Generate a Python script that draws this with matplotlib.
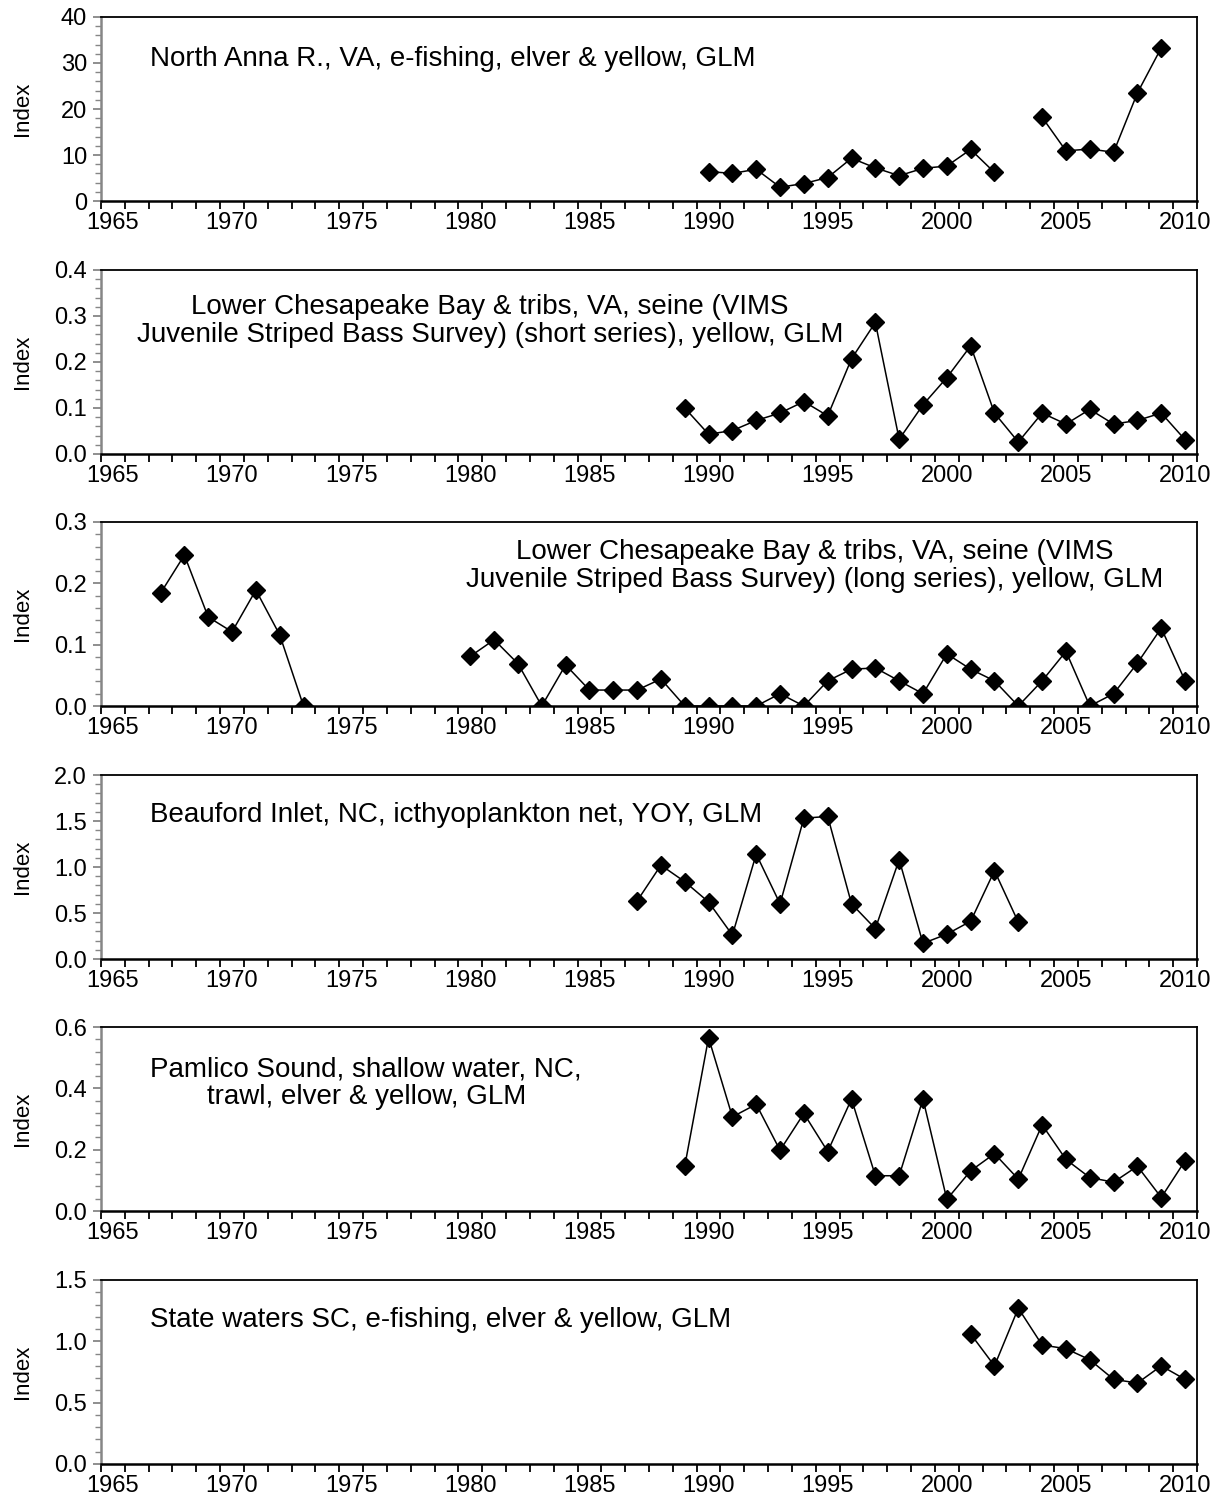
import numpy as np
import matplotlib
matplotlib.use("Agg")
import matplotlib.pyplot as plt
from matplotlib.ticker import MultipleLocator, FormatStrFormatter, NullFormatter, FixedLocator

plt.rcParams['font.family'] = ['Liberation Sans', 'DejaVu Sans']

nan = float('nan')

# North Anna R., VA (no survey in 2003)
years_north_anna = list(range(1990, 2010))
index_north_anna = [6.4, 6.0, 6.9, 3.0, 3.8, 5.1, 9.3, 7.2, 5.5, 7.1, 7.6, 11.2, 6.2,
                    nan, 18.2, 10.9, 11.3, 10.6, 23.5, 33.3]

# Lower Chesapeake Bay, VIMS seine, short series
years_vims_short = list(range(1989, 2011))
index_vims_short = [0.100, 0.043, 0.051, 0.073, 0.089, 0.114, 0.083, 0.207, 0.286, 0.032,
                    0.107, 0.166, 0.235, 0.089, 0.026, 0.089, 0.065, 0.097, 0.065, 0.073,
                    0.089, 0.031]

# Lower Chesapeake Bay, VIMS seine, long series (no sampling 1974-1979)
years_vims_long = list(range(1967, 2011))
index_vims_long = [0.184, 0.246, 0.145, 0.121, 0.189, 0.116, 0.0,
                   nan, nan, nan, nan, nan, nan,
                   0.081, 0.108, 0.069, 0.0, 0.067, 0.026, 0.026, 0.026, 0.044,
                   0.0, 0.0, 0.0, 0.0, 0.020, 0.0, 0.041, 0.060, 0.062, 0.041,
                   0.020, 0.085, 0.060, 0.041, 0.0, 0.041, 0.089, 0.0, 0.020,
                   0.070, 0.127, 0.041]

# Beauford Inlet, NC
years_beaufort = list(range(1987, 2004))
index_beaufort = [0.63, 1.02, 0.84, 0.62, 0.26, 1.14, 0.60, 1.53, 1.55, 0.60, 0.33,
                  1.08, 0.17, 0.27, 0.41, 0.96, 0.40]

# Pamlico Sound, NC
years_pamlico = list(range(1989, 2011))
index_pamlico = [0.146, 0.565, 0.307, 0.348, 0.198, 0.318, 0.194, 0.365, 0.115, 0.115,
                 0.365, 0.038, 0.131, 0.187, 0.104, 0.281, 0.168, 0.109, 0.094, 0.146,
                 0.044, 0.164]

# State waters SC
years_sc = list(range(2001, 2011))
index_sc = [1.06, 0.80, 1.27, 0.97, 0.94, 0.85, 0.69, 0.66, 0.80, 0.69]

panel_labels = [
    "North Anna R., VA, e-fishing, elver & yellow, GLM",
    "Lower Chesapeake Bay & tribs, VA, seine (VIMS\nJuvenile Striped Bass Survey) (short series), yellow, GLM",
    "Lower Chesapeake Bay & tribs, VA, seine (VIMS\nJuvenile Striped Bass Survey) (long series), yellow, GLM",
    "Beauford Inlet, NC, icthyoplankton net, YOY, GLM",
    "Pamlico Sound, shallow water, NC,\ntrawl, elver & yellow, GLM",
    "State waters SC, e-fishing, elver & yellow, GLM",
]
year_labels = list(range(1965, 2011, 5))

series = [
    (years_north_anna, index_north_anna),
    (years_vims_short, index_vims_short),
    (years_vims_long, index_vims_long),
    (years_beaufort, index_beaufort),
    (years_pamlico, index_pamlico),
    (years_sc, index_sc),
]

# y-axis: (max, major step, tick format)
y_axes = [(40, 10, '%d'), (0.4, 0.1, '%.1f'), (0.3, 0.1, '%.1f'),
          (2.0, 0.5, '%.1f'), (0.6, 0.2, '%.1f'), (1.5, 0.5, '%.1f')]
# label placement: (x, y, horizontal alignment) in axes fraction
label_pos = [(0.045, 0.77, 'left'), (0.355, 0.725, 'center'), (0.651, 0.76, 'center'),
             (0.045, 0.785, 'left'), (0.242, 0.695, 'center'), (0.045, 0.78, 'left')]

W, H = 1217, 1505
fig = plt.figure(figsize=(W / 100, H / 100), dpi=100)
fig.patch.set_facecolor('white')

left_px, right_px = 101, 1197
tops = [17, 270, 522, 775, 1027, 1280]
height_px = 184
grey = '#868686'

for i, ((yrs, vals), (ymax, step, fmt), text, (tx, ty, ha)) in enumerate(
        zip(series, y_axes, panel_labels, label_pos)):
    top = tops[i]
    ax = fig.add_axes([left_px / W, 1 - (top + height_px) / H,
                       (right_px - left_px) / W, height_px / H])
    ax.plot(yrs, np.array(vals, dtype=float), color='black', lw=1.1,
            marker='D', markersize=9, markerfacecolor='black',
            markeredgecolor='black')
    ax.set_xlim(1964.5, 2010.5)
    ax.set_ylim(0, ymax)

    # category-style year axis: labels centred on years, ticks between years
    ax.xaxis.set_major_locator(FixedLocator(year_labels))
    ax.xaxis.set_minor_locator(FixedLocator(np.arange(1964.5, 2011, 1.0)))
    ax.xaxis.set_minor_formatter(NullFormatter())
    ax.tick_params(axis='x', which='major', length=0, labelsize=17, pad=8)
    ax.tick_params(axis='x', which='minor', length=6, width=1.3, color='black',
                   direction='out')

    ax.yaxis.set_major_locator(MultipleLocator(step))
    ax.yaxis.set_minor_locator(MultipleLocator(step / 5))
    ax.yaxis.set_major_formatter(FormatStrFormatter(fmt))
    ax.tick_params(axis='y', which='major', length=6, width=1.3, color=grey,
                   labelsize=17, pad=4, direction='out')
    ax.tick_params(axis='y', which='minor', length=4, width=1.0, color=grey,
                   direction='out')

    for side in ('top', 'right'):
        ax.spines[side].set_color('black')
        ax.spines[side].set_linewidth(1.3)
    ax.spines['bottom'].set_color('black')
    ax.spines['bottom'].set_linewidth(1.8)
    ax.spines['left'].set_color(grey)
    ax.spines['left'].set_linewidth(1.8)

    ax.text(tx, ty, text, transform=ax.transAxes, ha=ha, va='center',
            multialignment='center', fontsize=20, linespacing=1.1)

    fig.text(22 / W, 1 - (top + height_px / 2) / H, 'Index', rotation=90,
             ha='center', va='center', fontsize=16)

fig.savefig('out.png', dpi=100, facecolor='white')
